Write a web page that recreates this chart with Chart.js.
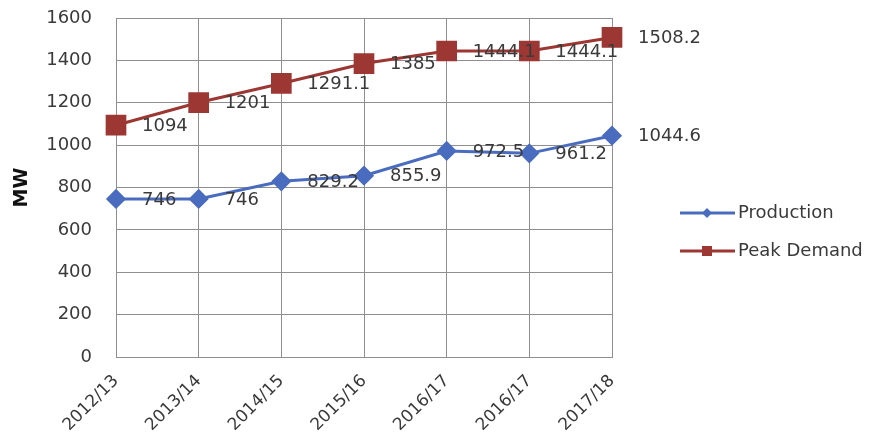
<!DOCTYPE html>
<html>
<head>
<meta charset="utf-8">
<script src="https://cdn.jsdelivr.net/npm/chart.js@4.4.1/dist/chart.umd.min.js"></script>
<style>
  html, body { margin: 0; background: #fff; }
  #wrap { width: 886px; height: 439px; }
</style>
</head>
<body>
<div id="wrap"><canvas id="powerChart"></canvas></div>
<script>
const years = ["2012/13", "2013/14", "2014/15", "2015/16", "2016/17", "2016/17", "2017/18"];
const production = [746, 746, 829.2, 855.9, 972.5, 961.2, 1044.6];
const peakDemand = [1094, 1201, 1291.1, 1385, 1444.1, 1444.1, 1508.2];
const seriesNames = ["Production", "Peak Demand"];

const BLUE = "#4a6cbf";
const RED = "#9c3733";
const GRID = "#8f8f8f";
const TEXT = "#3a3a3a";
const FONT = "'DejaVu Sans', Verdana, sans-serif";

// numbers written to the right of each point
const valueLabels = {
  id: "valueLabels",
  afterDatasetsDraw(chart) {
    const ctx = chart.ctx;
    ctx.save();
    ctx.font = "18px " + FONT;
    ctx.fillStyle = TEXT;
    ctx.textBaseline = "middle";
    chart.data.datasets.forEach((ds, i) => {
      chart.getDatasetMeta(i).data.forEach((pt, j) => {
        ctx.fillText(String(ds.data[j]), pt.x + 26, pt.y + 1);
      });
    });
    ctx.restore();
  }
};

// line-and-marker legend at the right
const sideLegend = {
  id: "sideLegend",
  afterDraw(chart) {
    const ctx = chart.ctx;
    const items = chart.data.datasets;
    ctx.save();
    ctx.font = "18px " + FONT;
    ctx.textBaseline = "middle";
    items.forEach((ds, i) => {
      const y = 213 + i * 38;
      ctx.strokeStyle = ds.borderColor;
      ctx.lineWidth = 3;
      ctx.beginPath();
      ctx.moveTo(680, y);
      ctx.lineTo(735, y);
      ctx.stroke();
      ctx.fillStyle = ds.borderColor;
      ctx.beginPath();
      if (ds.pointStyle === "rectRot") {
        ctx.moveTo(707, y - 5);
        ctx.lineTo(712, y);
        ctx.lineTo(707, y + 5);
        ctx.lineTo(702, y);
        ctx.closePath();
      } else {
        ctx.rect(702, y - 5, 10, 10);
      }
      ctx.fill();
      ctx.fillStyle = TEXT;
      ctx.fillText(ds.label, 738, y);
    });
    ctx.restore();
  }
};

new Chart(document.getElementById("powerChart"), {
  type: "line",
  data: {
    labels: years,
    datasets: [
      {
        label: seriesNames[0],
        data: production,
        borderColor: BLUE,
        backgroundColor: BLUE,
        borderWidth: 3,
        pointStyle: "rectRot",
        pointRadius: 8,
        pointHoverRadius: 8,
        tension: 0
      },
      {
        label: seriesNames[1],
        data: peakDemand,
        borderColor: RED,
        backgroundColor: RED,
        borderWidth: 3,
        pointStyle: "rect",
        pointRadius: 12.5,
        pointHoverRadius: 12.5,
        tension: 0
      }
    ]
  },
  options: {
    responsive: true,
    maintainAspectRatio: false,
    animation: false,
    layout: { autoPadding: false, padding: { left: 0, right: 274, top: 18, bottom: 0 } },
    plugins: {
      legend: { display: false },
      tooltip: { enabled: false }
    },
    scales: {
      x: {
        offset: false,
        grid: { color: GRID, lineWidth: 1, drawTicks: false },
        border: { color: GRID, width: 1 },
        ticks: {
          color: TEXT,
          font: { family: FONT, size: 17 },
          minRotation: 45,
          maxRotation: 45,
          autoSkip: false,
          padding: 14
        },
        afterFit: (scale) => { scale.height = 82; }
      },
      y: {
        min: 0,
        max: 1600,
        grid: { color: GRID, lineWidth: 1, drawTicks: false },
        border: { color: GRID, width: 1 },
        ticks: {
          stepSize: 200,
          color: TEXT,
          font: { family: FONT, size: 18 },
          padding: 24,
          callback: (v) => String(v)
        },
        title: {
          display: true,
          text: "MW",
          color: "#111",
          font: { family: FONT, size: 19, weight: "bold" },
          padding: { top: 11, bottom: 13 }
        },
        afterFit: (scale) => {
          scale.width = 116;
          scale.paddingTop = 0;
          scale.paddingBottom = 0;
        }
      }
    }
  },
  plugins: [valueLabels, sideLegend]
});
</script>
</body>
</html>
